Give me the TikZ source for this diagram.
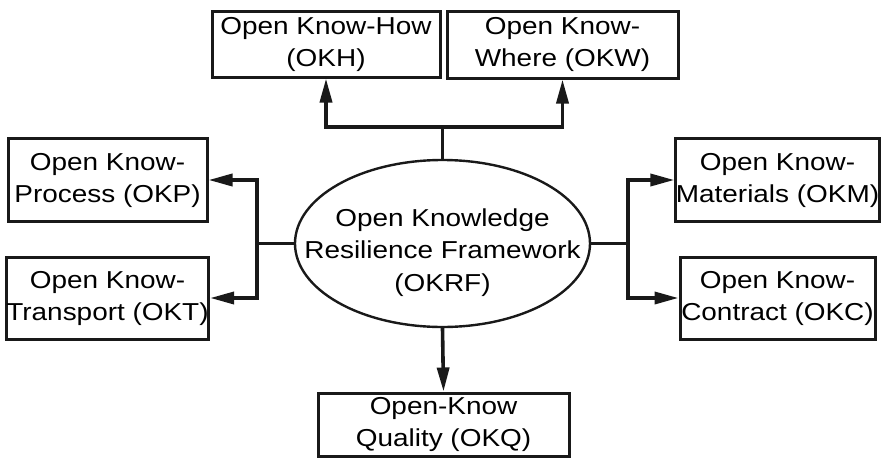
\documentclass[tikz,border=0pt]{standalone}
\usepackage{fontspec}
\setmainfont{Liberation Sans}[FakeStretch=1.14]
\usetikzlibrary{shapes.geometric,arrows.meta}
\tikzset{
  box/.style={draw=black!90, line width=3pt, align=center, inner sep=0pt,
    font=\fontsize{24.5}{32}\selectfont, text=black},
  oval/.style={ellipse, draw=black!90, line width=2.4pt, inner sep=0pt,
    minimum width=295pt, minimum height=167pt},
  ovaltext/.style={align=center, font=\fontsize{24.5}{32.5}\selectfont, text=black},
  link/.style={draw=black!90, line width=3.6pt},
  arr/.style={link, -{Triangle[length=24pt,width=12pt]}},
}
\begin{document}
\begin{tikzpicture}[x=1pt,y=-1pt]
\useasboundingbox (0,0) rectangle (881,458);
\node[oval, label={[ovaltext, yshift=-9pt]center:Open Knowledge\\Resilience Framework\\(OKRF)}] (okrf) at (442.5,243.5) {};
\node[box, minimum width=228pt, minimum height=66pt] (okh) at (326,44) {Open Know-How\\(OKH)};
\node[box, minimum width=231pt, minimum height=67pt] (okw) at (562.5,44.5) {Open Know-\\Where (OKW)};
\node[box, minimum width=199pt, minimum height=83pt] (okp) at (107.5,180) {Open Know-\\Process (OKP)};
\node[box, minimum width=199pt, minimum height=82pt] (okt) at (107.5,298) {Open Know-\\Transport (OKT)};
\node[box, minimum width=195pt, minimum height=83pt] (okm) at (777.5,180) {Open Know-\\Materials (OKM)};
\node[box, minimum width=195pt, minimum height=82pt] (okc) at (777.5,298) {Open Know-\\Contract (OKC)};
\node[box, minimum width=251pt, minimum height=63pt] (okq) at (443.5,424.5) {Open-Know\\Quality (OKQ)};
\coordinate (jt) at (442.5,127);
\coordinate (jl) at (257,243.5);
\coordinate (jr) at (628,243.5);
\draw[link] (okrf.north) -- (jt);
\draw[arr] (jt) -| (okh.south);
\draw[arr] (jt) -| (okw.south);
\draw[link] (okrf.west) -- (jl);
\draw[arr] (jl) |- (okp.east);
\draw[arr] (jl) |- (okt.east);
\draw[link] (okrf.east) -- (jr);
\draw[arr] (jr) |- (okm.west);
\draw[arr] (jr) |- (okc.west);
\draw[arr] (okrf.south) -- (okq.north);
\end{tikzpicture}
\end{document}
